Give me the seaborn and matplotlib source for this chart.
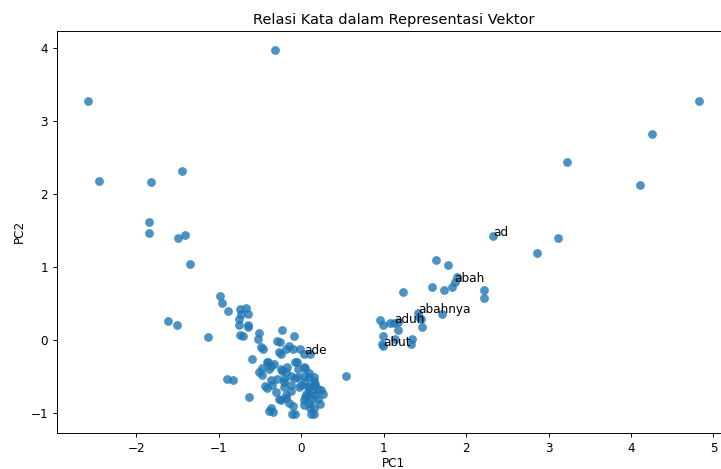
import matplotlib
matplotlib.use("Agg")
import matplotlib.pyplot as plt
import seaborn as sns
import pandas as pd

# PCA coordinates of word vectors
pc1_outer = [-2.59, -2.45, -1.82, -1.45, -1.85, -1.85, -1.49, -1.41, -1.35, -0.32,
             4.83, 4.25, 3.23, 4.11, 3.12, 2.86]
pc2_outer = [3.27, 2.18, 2.17, 2.31, 1.61, 1.47, 1.39, 1.44, 1.04, 3.98,
             3.28, 2.82, 2.44, 2.12, 1.39, 1.19]

pc1_main = [-0.98, -0.96, -0.89, -1.62, -1.50, -1.13, -0.74, -0.67, -0.73, -0.64,
            -0.75, -0.76, -0.65, -0.64, -0.71, -0.51, -0.52, -0.46, -0.23, -0.09,
            -0.26, -0.18, -0.10, -0.25, -0.60, -0.05, 0.11, -0.40, -0.48, -0.36,
            -0.48, -0.23, -0.17, -0.36, -0.21, -0.07, 0.05, 0.09, 0.15, 0.54,
            -0.90, -0.83, -0.21, -0.41, -0.31, -0.63, -0.12, -0.03, 0.05, 0.09,
            0.17, 0.21, 0.27, 0.09, 0.17, 0.05, 0.13, 0.23, 0.03, -0.24,
            -0.18, -0.10, -0.34, -0.07, 0.16, 0.11, -0.29, -0.15, -0.27, -0.02,
            -0.41, -0.33, -0.39, -0.25, -0.18, -0.08, -0.04, 0.04, -0.12, -0.04,
            0.04, 0.10, 0.16, 0.24, -0.35, -0.29, -0.21, -0.12, 0.00, 0.08,
            0.16, 0.06, 0.14, 0.20, 0.04, 0.10, -0.27, -0.18, -0.15, -0.37,
            -0.11, 0.12, 0.16, -0.44, -0.39, -0.51, -0.74, -0.49]
pc2_main = [0.60, 0.50, 0.39, 0.26, 0.20, 0.04, 0.42, 0.44, 0.35, 0.36,
            0.28, 0.21, 0.21, 0.17, 0.05, 0.10, 0.01, -0.12, 0.14, 0.05,
            -0.03, -0.12, -0.13, -0.19, -0.26, -0.31, -0.19, -0.31, -0.39, -0.36,
            -0.48, -0.43, -0.37, -0.55, -0.53, -0.52, -0.39, -0.46, -0.51, -0.50,
            -0.53, -0.55, -0.65, -0.66, -0.72, -0.79, -0.70, -0.65, -0.58, -0.65,
            -0.60, -0.67, -0.74, -0.74, -0.76, -0.79, -0.83, -0.88, -0.89, -0.83,
            -0.80, -0.90, -0.99, -1.02, -1.02, -0.93, -0.01, -0.08, -0.16, -0.12,
            -0.30, -0.33, -0.40, -0.40, -0.44, -0.30, -0.40, -0.37, -0.49, -0.51,
            -0.49, -0.51, -0.56, -0.69, -0.62, -0.53, -0.58, -0.62, -0.62, -0.65,
            -0.62, -0.74, -0.71, -0.81, -0.83, -0.87, -0.81, -0.76, -0.87, -0.94,
            -1.01, -1.01, -0.93, -0.63, -0.97, -0.44, 0.07, -0.10]

pc1_right = [1.64, 1.78, 1.89, 1.83, 1.59, 1.73, 2.22, 2.22, 1.23, 1.71,
             1.43, 0.96, 0.99, 1.08, 1.18, 1.18, 1.45, 1.47, 0.99, 1.14,
             1.35, 1.33, 0.98]
pc2_right = [1.10, 1.02, 0.86, 0.73, 0.73, 0.69, 0.69, 0.57, 0.65, 0.36,
             0.31, 0.27, 0.21, 0.23, 0.14, 0.24, 0.29, 0.18, 0.05, 0.01,
             0.01, -0.05, -0.05]

# labelled words
words = ["ad", "abah", "abahnya", "aduh", "abut", "ade"]
pc1_words = [2.33, 1.86, 1.42, 1.13, 0.99, 0.04]
pc2_words = [1.42, 0.79, 0.37, 0.23, -0.09, -0.19]

df = pd.DataFrame({
    "PC1": pc1_outer + pc1_main + pc1_right + pc1_words,
    "PC2": pc2_outer + pc2_main + pc2_right + pc2_words,
})

scale = 0.868
plt.rcParams.update({
    "font.family": ["DejaVu Sans"],
    "font.size": 10 * scale,
    "axes.linewidth": 0.8 * scale,
    "xtick.major.width": 0.8 * scale,
    "ytick.major.width": 0.8 * scale,
    "xtick.major.size": 3.5 * scale,
    "ytick.major.size": 3.5 * scale,
    "xtick.labelsize": 10 * scale,
    "ytick.labelsize": 10 * scale,
    "axes.labelsize": 10 * scale,
    "axes.titlesize": 12 * scale,
})

fig = plt.figure(figsize=(7.21, 4.69), dpi=100)
ax = fig.add_axes([0.0791, 0.0778, 0.9334, 0.8554])

sns.scatterplot(data=df, x="PC1", y="PC2", ax=ax, color="#1f77b4",
                alpha=0.8, s=40, linewidth=0)

for w, x, y in zip(words, pc1_words, pc2_words):
    ax.annotate(w, (x, y), fontsize=10 * scale)

ax.set_title("Relasi Kata dalam Representasi Vektor", pad=6 * scale)
ax.set_xlabel("PC1", labelpad=1.5)
ax.set_ylabel("PC2", labelpad=4 * scale)

fig.savefig("out.png", dpi=100)
